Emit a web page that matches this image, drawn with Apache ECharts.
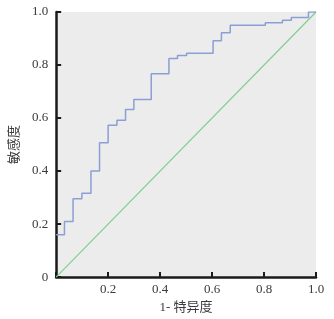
<!DOCTYPE html>
<html>
<head>
<meta charset="utf-8">
<script src="https://cdn.jsdelivr.net/npm/echarts@6/dist/echarts.min.js"></script>
<style>
  html, body { margin: 0; padding: 0; background: #fff; }
  #main { width: 334px; height: 319px; }
</style>
</head>
<body>
<div id="main"></div>
<script>
// ROC curve corners (1 - specificity, sensitivity)
var fpr = [0, 0.032, 0.065, 0.099, 0.134, 0.167, 0.2, 0.234, 0.267, 0.299, 0.366, 0.434, 0.467, 0.502, 0.604, 0.636, 0.670, 0.805, 0.871, 0.905, 0.971, 1.0];
var tpr = [0.16, 0.21, 0.296, 0.316, 0.40, 0.507, 0.573, 0.592, 0.632, 0.670, 0.767, 0.825, 0.836, 0.844, 0.892, 0.922, 0.95, 0.959, 0.969, 0.979, 1.0, 1.0];
var refLine = [[0, 0], [1, 1]];

var xName = '1- 特异度';
var yName = '敏感度';

var myChart = echarts.init(document.getElementById('main'));

var numFont = "'Liberation Serif', 'Times New Roman', serif";
var cjkFont = "'Liberation Serif', 'Noto Sans CJK SC', serif";

var axisCommon = {
    type: 'value',
    min: 0,
    max: 1,
    interval: 0.2,
    splitLine: {show: false},
    axisLine: {show: true, lineStyle: {color: '#1a1a1a', width: 2.5}},
    axisTick: {show: true, inside: true, length: 5, lineStyle: {color: '#1a1a1a', width: 2}},
    nameLocation: 'middle',
    nameTextStyle: {fontFamily: cjkFont, fontSize: 13, color: '#3a3a3a'}
};

var option = {
    animation: false,
    grid: {
        left: 48, right: 18, top: 12, bottom: 39,
        show: true, backgroundColor: '#ececec', borderWidth: 0
    },
    xAxis: Object.assign({}, axisCommon, {
        name: xName,
        nameGap: 22,
        axisLabel: {
            fontFamily: numFont, fontSize: 13, color: '#3a3a3a', margin: 6,
            formatter: function (v) { return v === 0 ? '' : v.toFixed(1); }
        }
    }),
    yAxis: Object.assign({}, axisCommon, {
        name: yName,
        nameGap: 28,
        axisLabel: {
            fontFamily: numFont, fontSize: 13, color: '#3a3a3a', margin: 8,
            formatter: function (v) { return v === 0 ? '0' : v.toFixed(1); }
        }
    }),
    series: [
        {
            type: 'line',
            data: refLine,
            symbol: 'none',
            lineStyle: {color: '#7fcf8f', width: 1.2}
        },
        {
            type: 'line',
            step: 'end',
            data: fpr.map(function (x, i) { return [x, tpr[i]]; }),
            symbol: 'none',
            lineStyle: {color: '#8b9fd4', width: 1.5}
        }
    ]
};

myChart.setOption(option);
</script>
</body>
</html>
